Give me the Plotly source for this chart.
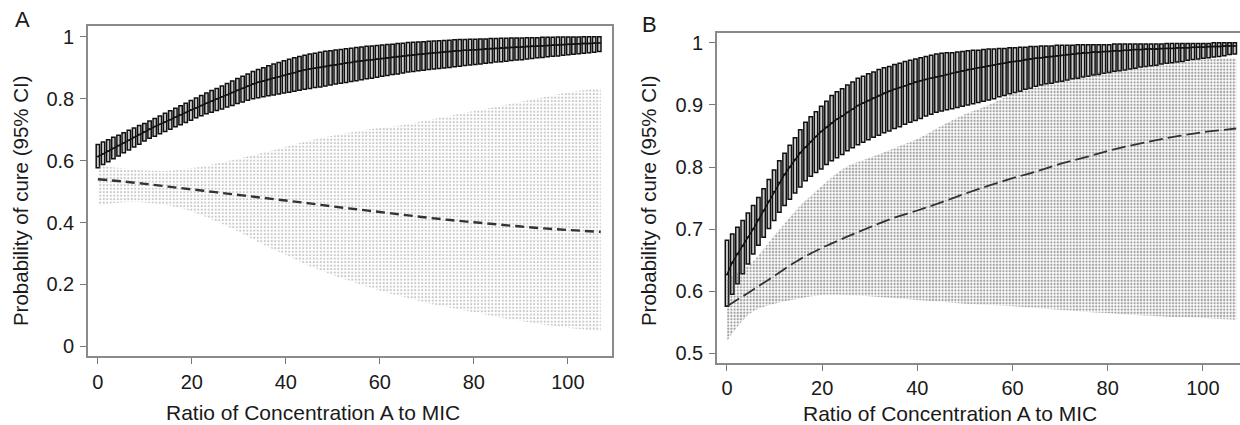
import plotly.graph_objects as go

# ---------------- data ----------------
BOX_X = [0, 1.1, 2.2, 3.3, 4.4, 5.5, 6.6, 7.7, 8.8, 9.9,
         11, 12.1, 13.2, 14.3, 15.4, 16.5, 17.6, 18.7, 19.8, 20.9,
         22, 23.1, 24.2, 25.3, 26.4, 27.5, 28.6, 29.7, 30.8, 31.9,
         33, 34.1, 35.2, 36.3, 37.4, 38.5, 39.6, 40.7, 41.8, 42.9,
         44, 45.1, 46.2, 47.3, 48.4, 49.5, 50.6, 51.7, 52.8, 53.9,
         55, 56.1, 57.2, 58.3, 59.4, 60.5, 61.6, 62.7, 63.8, 64.9,
         66, 67.1, 68.2, 69.3, 70.4, 71.5, 72.6, 73.7, 74.8, 75.9,
         77, 78.1, 79.2, 80.3, 81.4, 82.5, 83.6, 84.7, 85.8, 86.9,
         88, 89.1, 90.2, 91.3, 92.4, 93.5, 94.6, 95.7, 96.8, 97.9,
         99, 100.1, 101.2, 102.3, 103.4, 104.5, 105.6, 106.7]

A_TOP = [.652, .660, .667, .675, .682, .690, .698, .705, .713, .720,
         .728, .736, .744, .753, .761, .769, .777, .785, .794, .802,
         .810, .818, .826, .833, .841, .849, .857, .865, .872, .880,
         .888, .894, .900, .906, .912, .917, .922, .927, .932, .936,
         .940, .944, .947, .950, .953, .955, .957, .959, .961, .963,
         .965, .967, .969, .970, .972, .973, .975, .976, .978, .979,
         .981, .982, .983, .984, .985, .986, .987, .988, .989, .990,
         .991, .991, .992, .992, .993, .993, .994, .994, .995, .995,
         .996, .996, .996, .997, .997, .997, .998, .998, .998, .999,
         .999, .999, .999, .999, 1.0, 1.0, 1.0, 1.0]
A_MED = [.613, .622, .631, .640, .649, .658, .666, .675, .684, .693,
         .702, .710, .717, .725, .732, .740, .748, .755, .763, .770,
         .778, .785, .792, .799, .806, .813, .820, .827, .834, .841,
         .848, .853, .857, .862, .866, .871, .875, .880, .884, .889,
         .893, .896, .898, .901, .904, .907, .909, .912, .915, .917,
         .920, .922, .924, .926, .928, .930, .932, .934, .936, .938,
         .940, .942, .943, .945, .946, .948, .949, .951, .952, .954,
         .955, .956, .957, .958, .959, .961, .962, .963, .964, .965,
         .966, .967, .968, .969, .970, .970, .971, .972, .973, .974,
         .975, .976, .976, .977, .978, .978, .979, .980]
A_BOT = [.577, .587, .596, .606, .615, .625, .634, .644, .653, .663,
         .672, .679, .687, .694, .701, .709, .716, .723, .730, .738,
         .745, .751, .756, .762, .767, .773, .778, .784, .789, .795,
         .800, .803, .806, .809, .812, .815, .818, .821, .824, .827,
         .830, .833, .836, .838, .841, .844, .847, .850, .852, .855,
         .858, .861, .864, .866, .869, .872, .875, .878, .880, .883,
         .886, .888, .890, .892, .894, .896, .897, .899, .901, .903,
         .905, .907, .909, .910, .912, .914, .916, .918, .919, .921,
         .923, .925, .926, .928, .930, .932, .933, .935, .937, .938,
         .940, .942, .943, .945, .947, .948, .950, .952]

B_TOP = [.682, .692, .703, .714, .726, .738, .751, .765, .780, .795,
         .810, .822, .835, .847, .860, .872, .881, .889, .898, .906,
         .915, .921, .926, .932, .937, .943, .946, .950, .953, .957,
         .960, .962, .965, .967, .970, .972, .974, .976, .978, .980,
         .982, .983, .984, .984, .985, .986, .987, .988, .988, .989,
         .990, .990, .991, .991, .992, .992, .993, .993, .994, .994,
         .995, .995, .995, .996, .996, .996, .996, .997, .997, .997,
         .997, .997, .997, .997, .998, .998, .998, .998, .998, .998,
         .998, .998, .998, .998, .999, .999, .999, .999, .999, .999,
         .999, .999, .999, 1.0, 1.0, 1.0, 1.0, 1.0]
B_MED = [.627, .646, .660, .673, .687, .700, .715, .730, .745, .760,
         .775, .788, .800, .812, .823, .832, .841, .849, .857, .864,
         .871, .877, .882, .888, .893, .899, .903, .907, .911, .915,
         .919, .922, .925, .928, .931, .934, .937, .939, .941, .943,
         .945, .947, .949, .951, .953, .955, .957, .958, .960, .961,
         .963, .964, .966, .967, .969, .970, .971, .973, .974, .975,
         .976, .977, .978, .979, .980, .981, .982, .983, .984, .984,
         .985, .985, .986, .986, .987, .987, .988, .988, .989, .989,
         .990, .990, .990, .991, .991, .991, .992, .992, .992, .993,
         .993, .993, .994, .994, .994, .995, .995, .995]
B_BOT = [.576, .595, .612, .628, .644, .660, .674, .687, .701, .714,
         .727, .738, .748, .758, .768, .778, .785, .791, .797, .804,
         .810, .815, .820, .826, .831, .836, .840, .844, .848, .851,
         .855, .858, .862, .865, .869, .872, .875, .878, .882, .885,
         .888, .890, .892, .894, .896, .898, .900, .902, .904, .906,
         .908, .910, .913, .915, .918, .920, .922, .925, .927, .930,
         .932, .934, .935, .937, .938, .940, .942, .943, .945, .946,
         .948, .949, .951, .952, .954, .955, .956, .958, .959, .961,
         .962, .963, .964, .966, .967, .968, .969, .970, .972, .973,
         .974, .975, .976, .977, .978, .979, .981, .982]

ENV_X = [0, 5, 10, 15, 20, 25, 30, 35, 40, 45, 50, 55, 60, 65, 70, 75, 80, 85, 90, 95, 100, 107]
A_DOT_HI = [0.585, 0.575, 0.568, 0.567, 0.575, 0.590, 0.607, 0.625, 0.645, 0.665, 0.680,
            0.695, 0.705, 0.715, 0.730, 0.745, 0.760, 0.775, 0.790, 0.805, 0.820, 0.835]
A_DOT_LO = [0.455, 0.465, 0.465, 0.455, 0.435, 0.405, 0.370, 0.330, 0.295, 0.260, 0.230,
            0.205, 0.180, 0.160, 0.140, 0.125, 0.110, 0.095, 0.082, 0.070, 0.060, 0.048]
A_DASH = [0.540, 0.533, 0.525, 0.516, 0.507, 0.498, 0.489, 0.480, 0.471, 0.462, 0.452,
          0.443, 0.434, 0.425, 0.416, 0.408, 0.401, 0.394, 0.387, 0.381, 0.376, 0.370]
B_DOT_HI = [0.620, 0.645, 0.690, 0.735, 0.770, 0.800, 0.815, 0.830, 0.845, 0.866, 0.885,
            0.900, 0.918, 0.930, 0.940, 0.948, 0.955, 0.960, 0.965, 0.969, 0.973, 0.976]
B_DOT_LO = [0.520, 0.565, 0.580, 0.588, 0.594, 0.594, 0.592, 0.589, 0.586, 0.583, 0.580,
            0.578, 0.576, 0.573, 0.570, 0.567, 0.565, 0.562, 0.560, 0.558, 0.557, 0.554]
B_DASH = [0.576, 0.600, 0.625, 0.650, 0.670, 0.687, 0.703, 0.718, 0.730, 0.743, 0.757,
          0.770, 0.782, 0.793, 0.805, 0.815, 0.826, 0.835, 0.843, 0.850, 0.856, 0.862]

X_TICKS = [0, 20, 40, 60, 80, 100]
A_Y_TICKS = [0, 0.2, 0.4, 0.6, 0.8, 1]
A_Y_LABELS = ["0", "0.2", "0.4", "0.6", "0.8", "1"]
B_Y_TICKS = [0.5, 0.6, 0.7, 0.8, 0.9, 1]
B_Y_LABELS = ["0.5", "0.6", "0.7", "0.8", "0.9", "1"]

X_TITLE = "Ratio of Concentration A to MIC"
Y_TITLE = "Probability of cure (95% CI)"

FONT = "Liberation Sans, Arial, Helvetica, sans-serif"
W, H = 1240, 425

fig = go.Figure()


def add_panel(xa, ya, dot_lo, dot_hi, dash, q1, med, q3, dotcolor, dotsize, solidity, dashstyle, dashwidth):
    fig.add_trace(go.Scatter(x=ENV_X, y=dot_lo, mode="lines", line=dict(width=0, shape="spline"),
                             xaxis=xa, yaxis=ya, hoverinfo="skip", showlegend=False))
    fig.add_trace(go.Scatter(x=ENV_X, y=dot_hi, mode="lines", line=dict(width=0, shape="spline"),
                             fill="tonexty", fillcolor="rgba(255,255,255,0)",
                             fillpattern=dict(shape=".", fgcolor=dotcolor, bgcolor="rgba(255,255,255,0)",
                                              size=dotsize, solidity=solidity),
                             xaxis=xa, yaxis=ya, hoverinfo="skip", showlegend=False))
    fig.add_trace(go.Scatter(x=ENV_X, y=dash, mode="lines",
                             line=dict(color="#333333", width=dashwidth, dash=dashstyle, shape="spline"),
                             xaxis=xa, yaxis=ya, showlegend=False))
    fig.add_trace(go.Box(x=BOX_X, q1=q1, median=med, q3=q3, lowerfence=q1, upperfence=q3,
                         width=0.72, whiskerwidth=0, boxpoints=False,
                         line=dict(color="#111111", width=1.5), fillcolor="#c9c9c9",
                         xaxis=xa, yaxis=ya, showlegend=False))
    fig.add_trace(go.Scatter(x=BOX_X, y=med, mode="lines", line=dict(color="#111", width=1.4),
                             xaxis=xa, yaxis=ya, showlegend=False))


add_panel("x", "y", A_DOT_LO, A_DOT_HI, A_DASH, A_BOT, A_MED, A_TOP, "#8f8f8f", 3.5, 0.3, "9px,5px", 2.4)
add_panel("x2", "y2", B_DOT_LO, B_DOT_HI, B_DASH, B_BOT, B_MED, B_TOP, "#444444", 3.2, 0.42, "14px,5px", 1.8)

axis_common = dict(showgrid=False, zeroline=False, showline=True, linecolor="#8a8a8a", linewidth=1.6,
                   ticks="outside", ticklen=6, tickwidth=1.2, tickcolor="#777",
                   tickfont=dict(family=FONT, size=20, color="#1a1a1a"))

fig.update_layout(
    width=W, height=H, margin=dict(l=0, r=0, t=0, b=0),
    paper_bgcolor="white", plot_bgcolor="white", showlegend=False,
    xaxis=dict(domain=[88 / W, 612 / W], range=[-2.1, 109.4], tickvals=X_TICKS, mirror=True,
               anchor="y", ticklabelstandoff=1, **axis_common),
    yaxis=dict(domain=[1 - 357 / H, 1 - 25 / H], range=[-0.032, 1.035], tickvals=A_Y_TICKS,
               ticktext=A_Y_LABELS, mirror=True, anchor="x", ticklabelstandoff=2, **axis_common),
    xaxis2=dict(domain=[717 / W, 1.0], range=[-2.1, 107.8], tickvals=X_TICKS, mirror=True,
                anchor="y2", ticklabelstandoff=0, **axis_common),
    yaxis2=dict(domain=[1 - 364 / H, 1 - 32 / H], range=[0.484, 1.016], tickvals=B_Y_TICKS,
                ticktext=B_Y_LABELS, mirror=False, anchor="x2", ticklabelstandoff=2, **axis_common),
)

annos = [
    dict(text="A", x=13 / W, y=1 - 19 / H, font=dict(size=22)),
    dict(text="B", x=640 / W, y=1 - 24 / H, font=dict(size=22)),
    dict(text=Y_TITLE, x=20 / W, y=1 - 201 / H, textangle=-90, xanchor="center", font=dict(size=20.5)),
    dict(text=Y_TITLE, x=648 / W, y=1 - 201 / H, textangle=-90, xanchor="center", font=dict(size=20.5)),
    dict(text=X_TITLE, x=313 / W, y=1 - 413 / H, xanchor="center", font=dict(size=21)),
    dict(text=X_TITLE, x=950 / W, y=1 - 414 / H, xanchor="center", font=dict(size=21)),
]
for a in annos:
    f = dict(family=FONT, color="#1a1a1a")
    f.update(a.pop("font"))
    fig.add_annotation(xref="paper", yref="paper", showarrow=False,
                       xanchor=a.pop("xanchor", "left"), yanchor="middle", font=f, **a)

fig.write_html("out.html", config={"displayModeBar": False},
               post_script="document.body.style.margin='0';document.body.style.padding='0';"
                           "document.documentElement.style.overflow='hidden';")
